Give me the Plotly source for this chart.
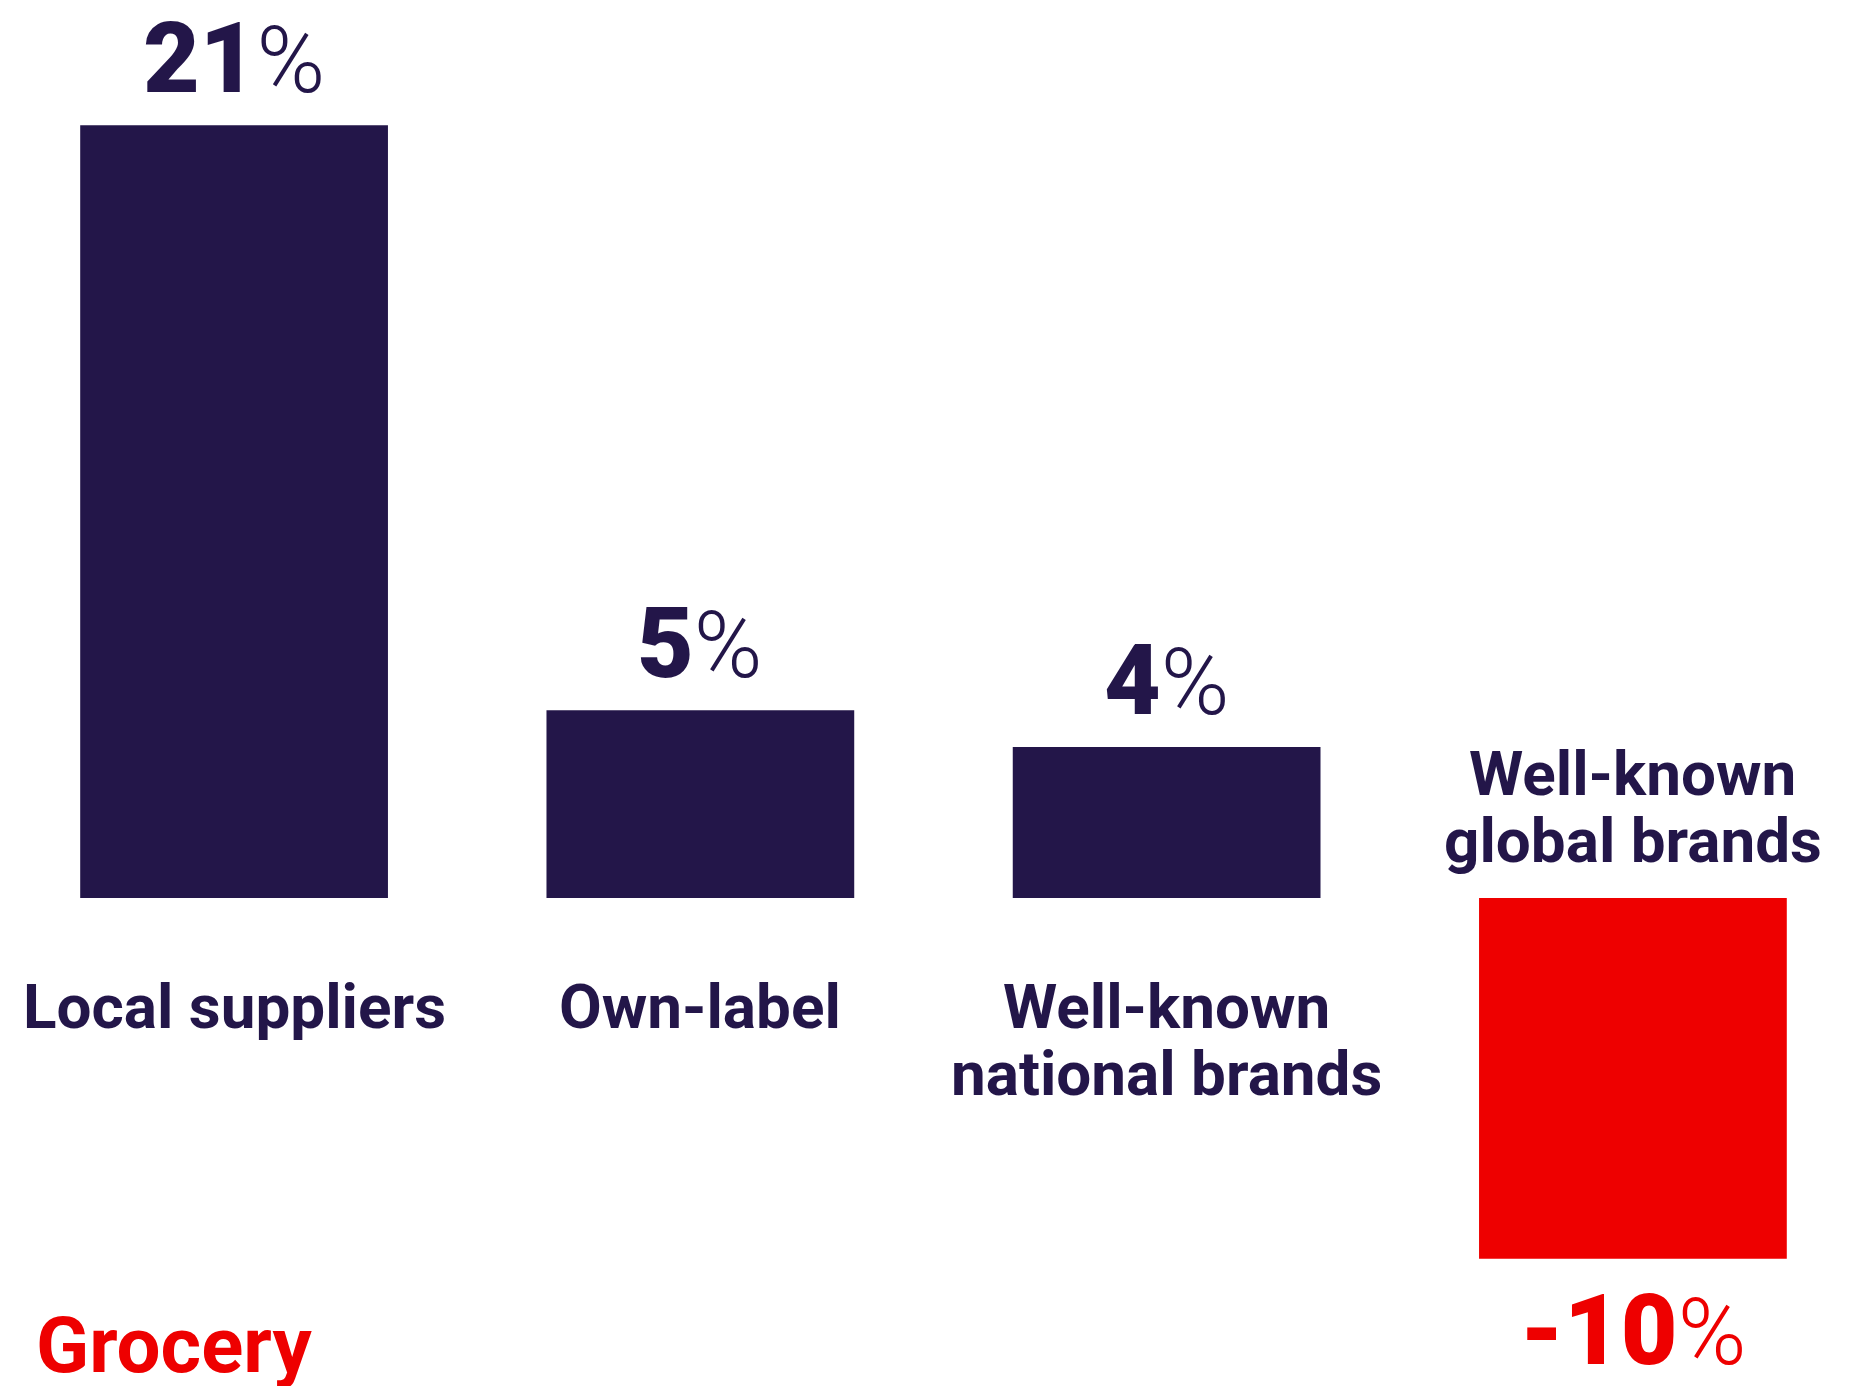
import plotly.graph_objects as go

categories = ["Local suppliers", "Own-label", "Well-known<br>national brands", "Well-known<br>global brands"]
values = [21.0, 5.1, 4.1, -9.8]
value_labels = ["21", "5", "4", "-10"]
panel_title = "Grocery"

NAVY = "#231649"
RED = "#EE0000"
FONT = "Roboto"

colors = [NAVY if v >= 0 else RED for v in values]

fig = go.Figure()
fig.add_trace(go.Bar(
    x=categories, y=values, width=0.66,
    marker=dict(color=colors, line=dict(width=0)),
    hoverinfo="skip",
))

ann = []
LBL = 62
LINE = 67
for i, (c, v, lab) in enumerate(zip(categories, values, value_labels)):
    col = NAVY if v >= 0 else RED
    txt = f"<span style='font-size:98px;font-weight:900'>{lab}</span>%"
    if v >= 0:
        ann.append(dict(x=c, y=v, xref="x", yref="y", text=txt, showarrow=False,
                        xanchor="center", yanchor="bottom", yshift=8, borderpad=0,
                        font=dict(family=FONT, size=93, color=col, weight=300)))
    else:
        ann.append(dict(x=c, y=v, xref="x", yref="y", text=txt, showarrow=False,
                        xanchor="center", yanchor="top", yshift=-13, borderpad=0,
                        font=dict(family=FONT, size=93, color=col, weight=300)))
    lines = c.split("<br>")
    if v >= 0:
        for j, ln in enumerate(lines):
            ann.append(dict(x=c, y=0, xref="x", yref="y", text=ln, showarrow=False,
                            xanchor="center", yanchor="top", yshift=-71 - j * LINE, borderpad=0,
                            font=dict(family=FONT, size=LBL, color=NAVY, weight=700)))
    else:
        n = len(lines)
        for j, ln in enumerate(lines):
            ann.append(dict(x=c, y=0, xref="x", yref="y", text=ln, showarrow=False,
                            xanchor="center", yanchor="bottom", yshift=20 + (n - 1 - j) * LINE, borderpad=0,
                            font=dict(family=FONT, size=LBL, color=NAVY, weight=700)))

ann.append(dict(x=35 / 1853, y=0, xref="paper", yref="paper", text=panel_title, showarrow=False,
                xanchor="left", yanchor="bottom", yshift=-6, borderpad=0,
                font=dict(family=FONT, size=78, color=RED, weight=700)))

fig.update_layout(
    width=1853, height=1386,
    margin=dict(l=0, r=0, t=0, b=0),
    paper_bgcolor="white", plot_bgcolor="white",
    showlegend=False,
    annotations=ann,
    xaxis=dict(visible=False, range=[-0.502, 3.472]),
    yaxis=dict(visible=False, range=[-13.26, 24.40]),
)

fig.write_html("out.html")
